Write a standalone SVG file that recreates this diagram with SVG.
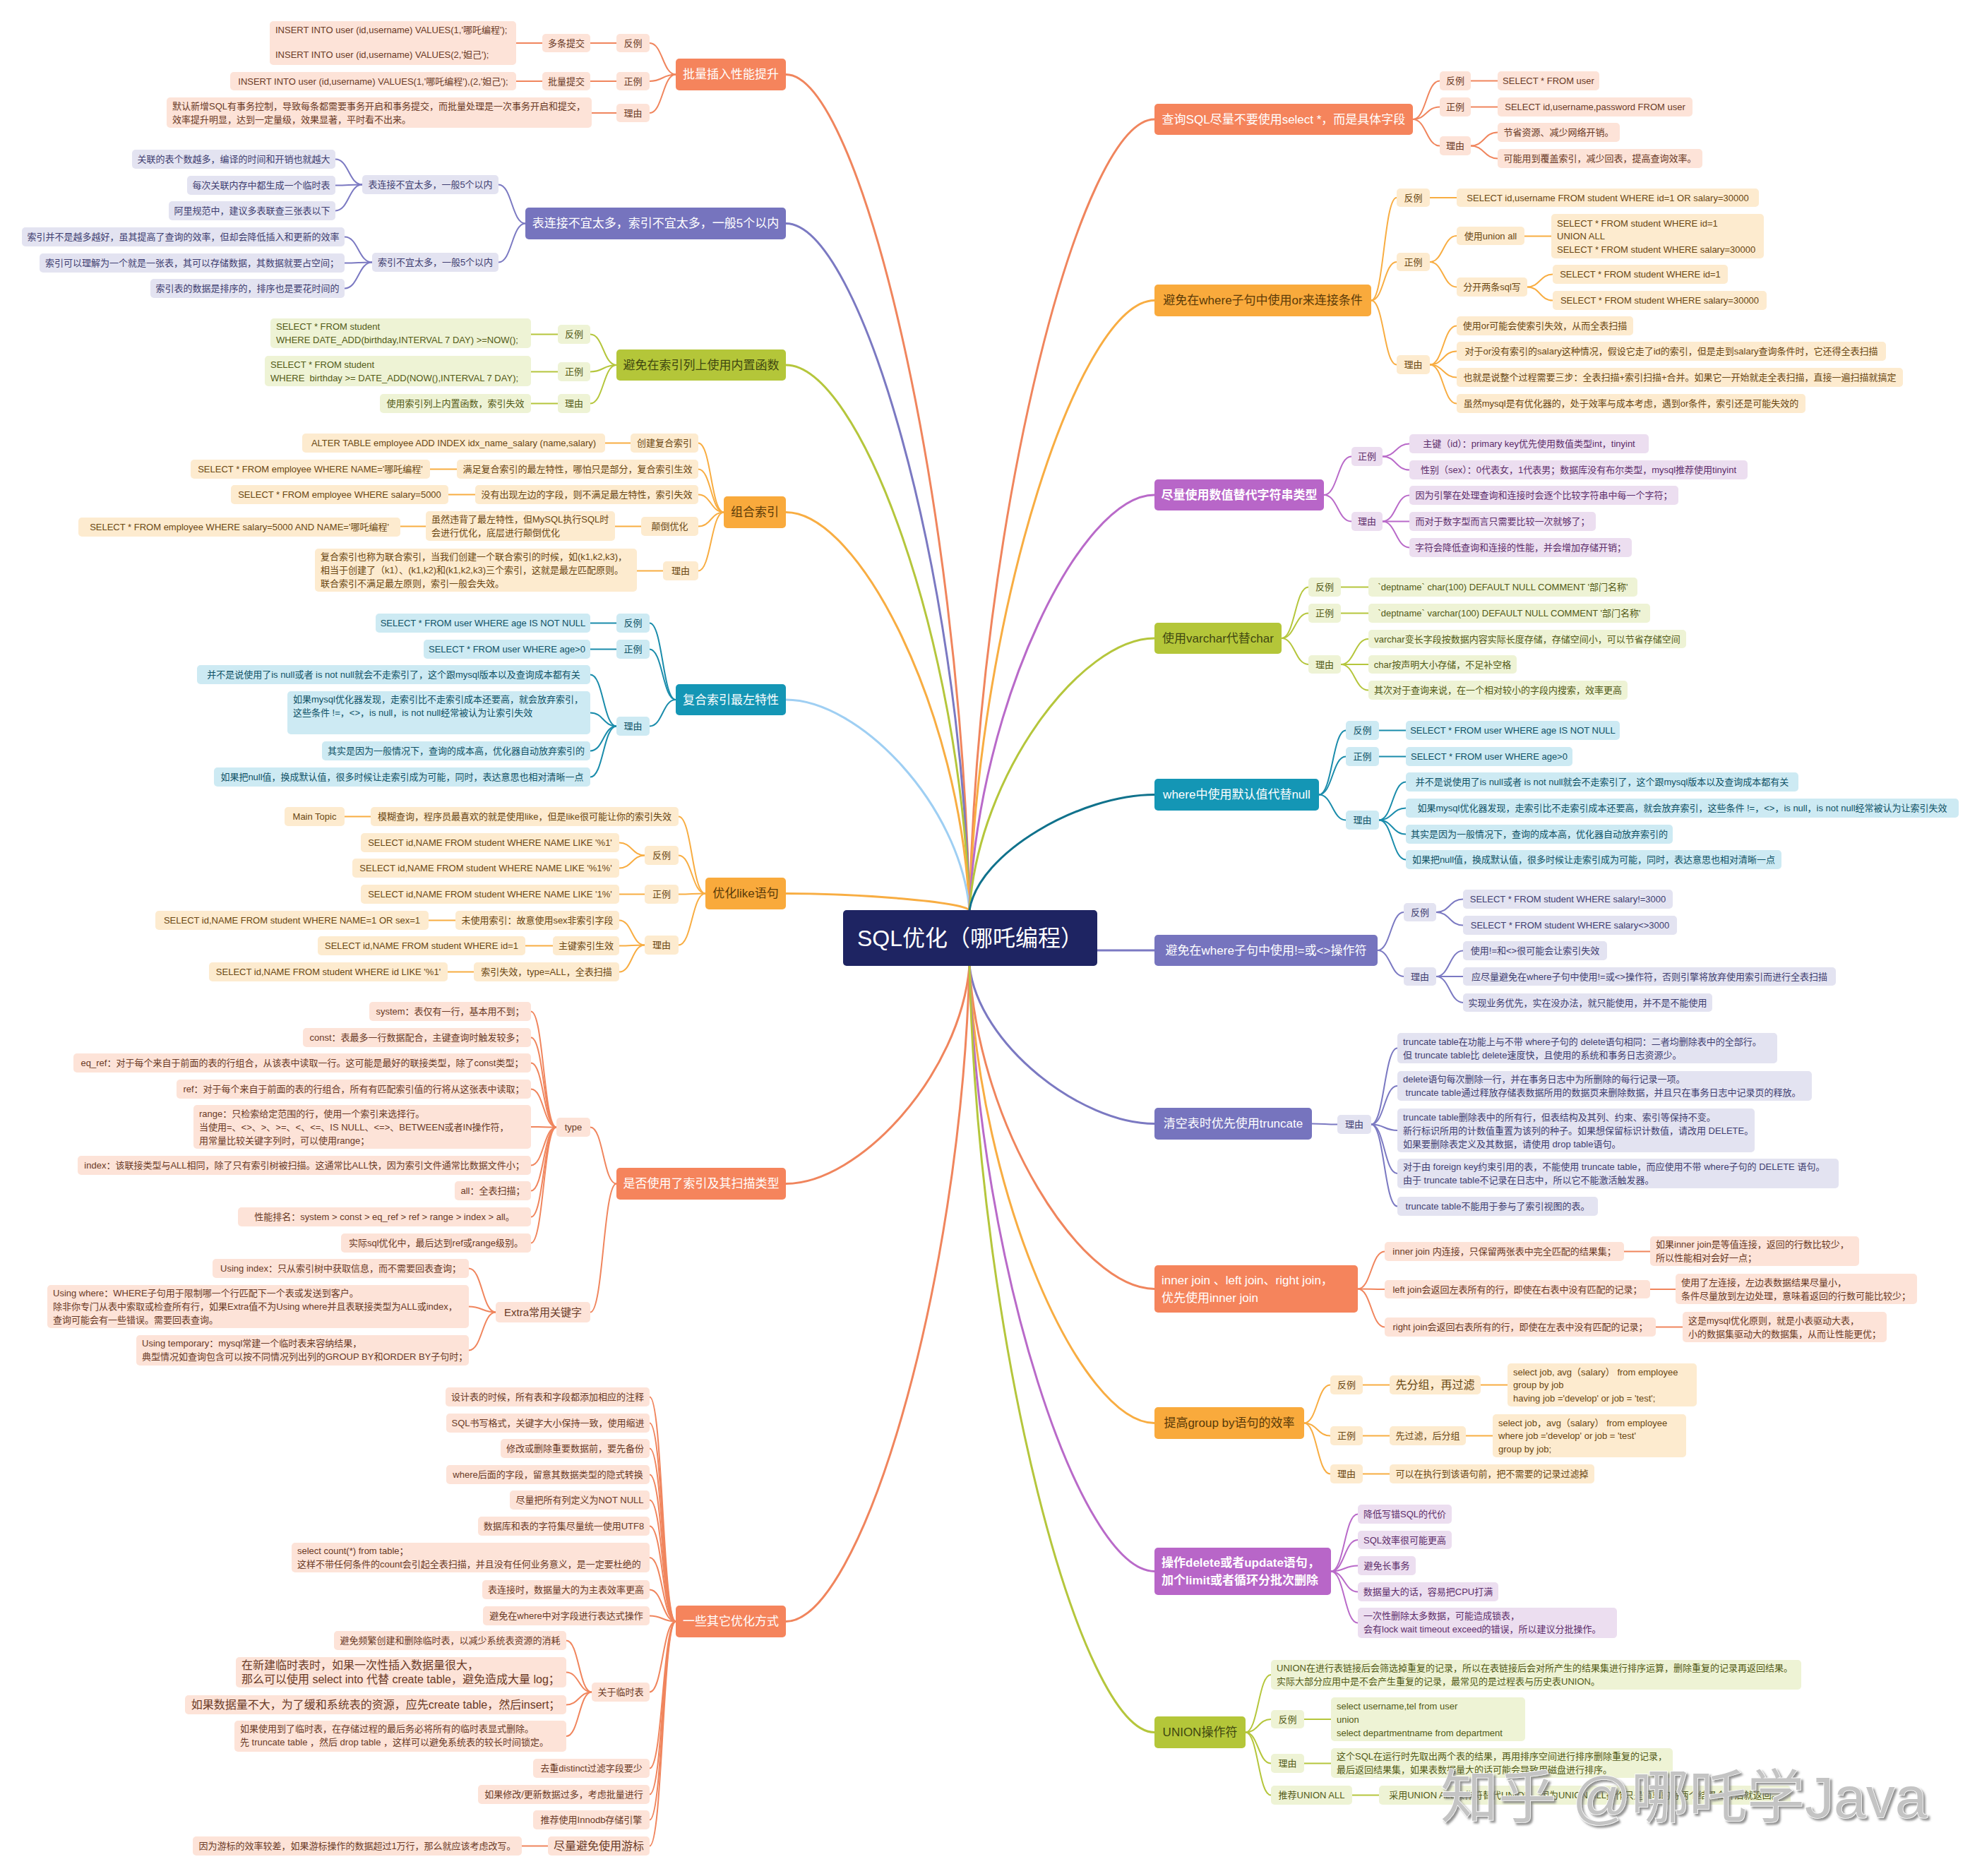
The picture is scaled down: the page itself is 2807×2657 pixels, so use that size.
<svg xmlns="http://www.w3.org/2000/svg" width="2807" height="2657" viewBox="0 0 2807 2657">
<defs>
<filter id="wm" x="-5%" y="-20%" width="110%" height="140%"><feDropShadow dx="3" dy="3" stdDeviation="1.5" flood-color="#777" flood-opacity="0.8"/></filter>
<style>
text{font-family:"Liberation Sans","Noto Sans CJK SC",sans-serif;font-size:13px;dominant-baseline:central}
.c text{text-anchor:middle}
.m text{font-size:17px}
.f16 text{font-size:16px}
.f15 text{font-size:15px}
.pre{white-space:pre}
rect{rx:5px;ry:5px}
.co rect{fill:#fde3d8}.co text{fill:#6a3a26}
.pu rect{fill:#e3e3f1}.pu text{fill:#3e3d70}
.yg rect{fill:#eef3d5}.yg text{fill:#525a16}
.am rect{fill:#fdebcf}.am text{fill:#6a4712}
.te rect{fill:#cdeaf3}.te text{fill:#0f5266}
.ma rect{fill:#ecdef0}.ma text{fill:#5c2d6a}
.m.co rect{fill:#f5845c}.m.co text{fill:#ffffff}
.m.pu rect{fill:#7674be}.m.pu text{fill:#ffffff}
.m.yg rect{fill:#b4c639}.m.yg text{fill:#3f4710}
.m.am rect{fill:#f9aa3c}.m.am text{fill:#5a3a08}
.m.te rect{fill:#1496b5}.m.te text{fill:#ffffff}
.m.ma rect{fill:#b866c8}.m.ma text{fill:#ffffff;font-weight:bold}
#center rect{fill:#1e2462}
#center text{fill:#ffffff;font-size:32px;text-anchor:middle}
#connectors path{fill:none;stroke-width:2;stroke-linecap:round}
#connectors .w3 path{stroke-width:3}
.k-co{stroke:#f0855d}.k-pu{stroke:#7b79c2}.k-yg{stroke:#b5c63c}.k-am{stroke:#f8ad42}.k-te{stroke:#1a8cab}.k-ma{stroke:#b96ac9}.k-lb{stroke:#9fcff3}.k-dt{stroke:#10728c}
#watermark{font-size:82px;fill:#c4c4c4;stroke:#ffffff;stroke-width:1.5px;paint-order:stroke;filter:url(#wm)}
</style>
</defs>
<rect width="2807" height="2657" fill="#ffffff"/>
<g id="connectors">
<g class="w3">
<path class="k-co" d="M1113 105.5C1217 105.5 1360 697 1373 1289"/>
<path class="k-pu" d="M1113 316.5C1217 316.5 1360 803 1373 1289"/>
<path class="k-yg" d="M1113 517C1217 517 1360 903 1373 1289"/>
<path class="k-am" d="M1113 725.5C1217 725.5 1360 1007 1373 1289"/>
<path class="k-lb" d="M1113 991C1217 991 1360 1140 1373 1289"/>
<path class="k-am" d="M1113 1265.5C1217 1265.5 1360 1277 1373 1289"/>
<path class="k-co" d="M1113 1676.5C1217 1676.5 1360 1522 1373 1368"/>
<path class="k-co" d="M1113 2296.5C1217 2296.5 1360 1832 1373 1368"/>
<path class="k-co" d="M1635 169C1531 169 1386 729 1373 1289"/>
<path class="k-am" d="M1635 425.5C1531 425.5 1386 857 1373 1289"/>
<path class="k-ma" d="M1635 701C1531 701 1386 995 1373 1289"/>
<path class="k-yg" d="M1635 904C1531 904 1386 1096.5 1373 1289"/>
<path class="k-dt" d="M1635 1125.5C1531 1125.5 1386 1207 1373 1289"/>
<path class="k-pu" d="M1554 1346H1635"/>
<path class="k-pu" d="M1635 1591.5C1531 1591.5 1386 1480 1373 1368"/>
<path class="k-co" d="M1635 1825.5C1531 1825.5 1386 1597 1373 1368"/>
<path class="k-am" d="M1635 2015.5C1531 2015.5 1386 1692 1373 1368"/>
<path class="k-ma" d="M1635 2225.5C1531 2225.5 1386 1797 1373 1368"/>
<path class="k-yg" d="M1635 2453.5C1531 2453.5 1386 1911 1373 1368"/>
</g>
<g class="k-co">
<path d="M957 105.5C938.5 105.5 938.5 61 920 61"/>
<path d="M957 105.5C938.5 105.5 938.5 115 920 115"/>
<path d="M957 105.5C938.5 105.5 938.5 160 920 160"/>
<path d="M873 61H836M768 61H731M873 115H836M768 115H731M873 160H838"/>
<path d="M873 1676.5C854.5 1676.5 854.5 1596.5 836 1596.5"/>
<path d="M873 1676.5C854.5 1676.5 854.5 1858.5 836 1858.5"/>
<path d="M788 1596.5C770 1596.5 770 1432.5 752 1432.5"/>
<path d="M788 1596.5C770 1596.5 770 1469.5 752 1469.5"/>
<path d="M788 1596.5C770 1596.5 770 1505.5 752 1505.5"/>
<path d="M788 1596.5C770 1596.5 770 1542.5 752 1542.5"/>
<path d="M788 1596.5C770 1596.5 770 1596 752 1596"/>
<path d="M788 1596.5C770 1596.5 770 1650.5 752 1650.5"/>
<path d="M788 1596.5C770 1596.5 770 1686.5 752 1686.5"/>
<path d="M788 1596.5C770 1596.5 770 1723.5 752 1723.5"/>
<path d="M788 1596.5C770 1596.5 770 1760.5 752 1760.5"/>
<path d="M702 1858.5C683 1858.5 683 1796.5 664 1796.5"/>
<path d="M702 1858.5C683 1858.5 683 1850.5 664 1850.5"/>
<path d="M702 1858.5C683 1858.5 683 1912.5 664 1912.5"/>
<path d="M957 2296.5C938.5 2296.5 938.5 1978.5 920 1978.5"/>
<path d="M957 2296.5C938.5 2296.5 938.5 2015.5 920 2015.5"/>
<path d="M957 2296.5C938.5 2296.5 938.5 2051.5 920 2051.5"/>
<path d="M957 2296.5C938.5 2296.5 938.5 2088.5 920 2088.5"/>
<path d="M957 2296.5C938.5 2296.5 938.5 2124.5 920 2124.5"/>
<path d="M957 2296.5C938.5 2296.5 938.5 2161.5 920 2161.5"/>
<path d="M957 2296.5C938.5 2296.5 938.5 2206 920 2206"/>
<path d="M957 2296.5C938.5 2296.5 938.5 2251.5 920 2251.5"/>
<path d="M957 2296.5C938.5 2296.5 938.5 2288.5 920 2288.5"/>
<path d="M957 2296.5C938.5 2296.5 938.5 2396.5 920 2396.5"/>
<path d="M957 2296.5C938.5 2296.5 938.5 2504.5 920 2504.5"/>
<path d="M957 2296.5C938.5 2296.5 938.5 2541.5 920 2541.5"/>
<path d="M957 2296.5C938.5 2296.5 938.5 2577.5 920 2577.5"/>
<path d="M957 2296.5C938.5 2296.5 938.5 2614.5 920 2614.5"/>
<path d="M838 2396.5C820 2396.5 820 2323.5 802 2323.5"/>
<path d="M838 2396.5C820 2396.5 820 2368.5 802 2368.5"/>
<path d="M838 2396.5C820 2396.5 820 2414.5 802 2414.5"/>
<path d="M838 2396.5C820 2396.5 820 2459 802 2459"/>
<path d="M776 2614.5H739"/>
<path d="M2001 169C2020 169 2020 114.5 2039 114.5"/>
<path d="M2001 169C2020 169 2020 151.5 2039 151.5"/>
<path d="M2001 169C2020 169 2020 206.5 2039 206.5"/>
<path d="M2083 114.5H2121M2083 151.5H2121"/>
<path d="M2083 206.5C2102 206.5 2102 187.5 2121 187.5"/>
<path d="M2083 206.5C2102 206.5 2102 224.5 2121 224.5"/>
<path d="M1923 1825.5C1942 1825.5 1942 1772.5 1961 1772.5"/>
<path d="M1923 1825.5C1942 1825.5 1942 1826 1961 1826"/>
<path d="M1923 1825.5C1942 1825.5 1942 1879.5 1961 1879.5"/>
<path d="M2300 1772.5H2337M2337 1826H2373M2345 1879.5H2383"/>
</g>
<g class="k-pu">
<path d="M744 316.5C725 316.5 725 261.5 706 261.5"/>
<path d="M744 316.5C725 316.5 725 371.5 706 371.5"/>
<path d="M513 261.5C494 261.5 494 225.5 475 225.5"/>
<path d="M513 261.5C494 261.5 494 262.5 475 262.5"/>
<path d="M513 261.5C494 261.5 494 298.5 475 298.5"/>
<path d="M527 371.5C507.5 371.5 507.5 335.5 488 335.5"/>
<path d="M527 371.5C507.5 371.5 507.5 372.5 488 372.5"/>
<path d="M527 371.5C507.5 371.5 507.5 408.5 488 408.5"/>
<path d="M1951 1346C1969.5 1346 1969.5 1292 1988 1292"/>
<path d="M1951 1346C1969.5 1346 1969.5 1383 1988 1383"/>
<path d="M2034 1292C2053 1292 2053 1273.5 2072 1273.5"/>
<path d="M2034 1292C2053 1292 2053 1310.5 2072 1310.5"/>
<path d="M2034 1383C2053 1383 2053 1346.5 2072 1346.5"/>
<path d="M2034 1383H2072"/>
<path d="M2034 1383C2053 1383 2053 1420 2072 1420"/>
<path d="M1858 1591.5C1876 1591.5 1876 1592.5 1894 1592.5"/>
<path d="M1942 1592.5C1960.5 1592.5 1960.5 1484.5 1979 1484.5"/>
<path d="M1942 1592.5C1960.5 1592.5 1960.5 1538 1979 1538"/>
<path d="M1942 1592.5C1960.5 1592.5 1960.5 1601 1979 1601"/>
<path d="M1942 1592.5C1960.5 1592.5 1960.5 1662 1979 1662"/>
<path d="M1942 1592.5C1960.5 1592.5 1960.5 1708.5 1979 1708.5"/>
</g>
<g class="k-yg">
<path d="M873 517C854.5 517 854.5 473.5 836 473.5"/>
<path d="M873 517C854.5 517 854.5 526.5 836 526.5"/>
<path d="M873 517C854.5 517 854.5 571.5 836 571.5"/>
<path d="M790 473.5H752M790 526.5H752M790 571.5H752"/>
<path d="M1815 904C1834 904 1834 831.5 1853 831.5"/>
<path d="M1815 904C1834 904 1834 868.5 1853 868.5"/>
<path d="M1815 904C1834 904 1834 941 1853 941"/>
<path d="M1899 831.5H1938M1899 868.5H1938"/>
<path d="M1899 941C1918.5 941 1918.5 905 1938 905"/>
<path d="M1899 941H1938"/>
<path d="M1899 941C1918.5 941 1918.5 977.5 1938 977.5"/>
<path d="M1764 2453.5C1782 2453.5 1782 2372 1800 2372"/>
<path d="M1764 2453.5C1782 2453.5 1782 2435 1800 2435"/>
<path d="M1764 2453.5C1782 2453.5 1782 2497.5 1800 2497.5"/>
<path d="M1764 2453.5C1782 2453.5 1782 2542.5 1800 2542.5"/>
<path d="M1847 2435H1885M1847 2497.5H1885M1915 2542.5H1953"/>
</g>
<g class="k-am">
<path d="M1025 725.5C1007 725.5 1007 627.5 989 627.5"/>
<path d="M1025 725.5C1007 725.5 1007 664.5 989 664.5"/>
<path d="M1025 725.5C1007 725.5 1007 700.5 989 700.5"/>
<path d="M1025 725.5C1007 725.5 1007 745.5 989 745.5"/>
<path d="M1025 725.5C1007 725.5 1007 808.5 989 808.5"/>
<path d="M893 627.5H857M647 664.5H609M673 700.5H635M908 745.5H871M603 745.5H567M939 808.5H902"/>
<path d="M999 1265.5C980 1265.5 980 1156.5 961 1156.5"/>
<path d="M999 1265.5C980 1265.5 980 1211.5 961 1211.5"/>
<path d="M999 1265.5C980 1265.5 980 1266.5 961 1266.5"/>
<path d="M999 1265.5C980 1265.5 980 1338.5 961 1338.5"/>
<path d="M525 1156.5H488"/>
<path d="M913 1211.5C895 1211.5 895 1193.5 877 1193.5"/>
<path d="M913 1211.5C895 1211.5 895 1229.5 877 1229.5"/>
<path d="M913 1266.5H877"/>
<path d="M913 1338.5C895 1338.5 895 1303.5 877 1303.5"/>
<path d="M913 1338.5C895 1338.5 895 1339.5 877 1339.5"/>
<path d="M913 1338.5C895 1338.5 895 1376.5 877 1376.5"/>
<path d="M645 1303.5H607M783 1339.5H744M671 1376.5H634"/>
<path d="M1942 425.5C1960 425.5 1960 280 1978 280"/>
<path d="M1942 425.5C1960 425.5 1960 371 1978 371"/>
<path d="M1942 425.5C1960 425.5 1960 516.5 1978 516.5"/>
<path d="M2025 280H2063"/>
<path d="M2025 371C2044 371 2044 334 2063 334"/>
<path d="M2025 371C2044 371 2044 406.5 2063 406.5"/>
<path d="M2159 334.5H2197"/>
<path d="M2163 406.5C2181 406.5 2181 388.5 2199 388.5"/>
<path d="M2163 406.5C2181 406.5 2181 425.5 2199 425.5"/>
<path d="M2025 516.5C2044 516.5 2044 461.5 2063 461.5"/>
<path d="M2025 516.5C2044 516.5 2044 497.5 2063 497.5"/>
<path d="M2025 516.5C2044 516.5 2044 534.5 2063 534.5"/>
<path d="M2025 516.5C2044 516.5 2044 571.5 2063 571.5"/>
<path d="M1847 2015.5C1865.5 2015.5 1865.5 1961.5 1884 1961.5"/>
<path d="M1847 2015.5C1865.5 2015.5 1865.5 2033.5 1884 2033.5"/>
<path d="M1847 2015.5C1865.5 2015.5 1865.5 2087.5 1884 2087.5"/>
<path d="M1930 1961.5H1968M2097 1961.5H2135M1930 2033.5H1968M2076 2033.5H2114M1930 2087.5H1968"/>
</g>
<g class="k-te">
<path d="M957 991C938.5 991 938.5 882.5 920 882.5"/>
<path d="M957 991C938.5 991 938.5 919.5 920 919.5"/>
<path d="M957 991C938.5 991 938.5 1028.5 920 1028.5"/>
<path d="M873 882.5H836M873 919.5H836"/>
<path d="M873 1028.5C854.5 1028.5 854.5 955.5 836 955.5"/>
<path d="M873 1028.5C854.5 1028.5 854.5 1009.5 836 1009.5"/>
<path d="M873 1028.5C854.5 1028.5 854.5 1063.5 836 1063.5"/>
<path d="M873 1028.5C854.5 1028.5 854.5 1100.5 836 1100.5"/>
<path d="M1868 1125.5C1887 1125.5 1887 1034.5 1906 1034.5"/>
<path d="M1868 1125.5C1887 1125.5 1887 1071.5 1906 1071.5"/>
<path d="M1868 1125.5C1887 1125.5 1887 1161.5 1906 1161.5"/>
<path d="M1953 1034.5H1991M1953 1071.5H1991"/>
<path d="M1953 1161.5C1972 1161.5 1972 1107.5 1991 1107.5"/>
<path d="M1953 1161.5C1972 1161.5 1972 1144.5 1991 1144.5"/>
<path d="M1953 1161.5C1972 1161.5 1972 1181.5 1991 1181.5"/>
<path d="M1953 1161.5C1972 1161.5 1972 1217.5 1991 1217.5"/>
</g>
<g class="k-ma">
<path d="M1875 701C1894.5 701 1894.5 646.5 1914 646.5"/>
<path d="M1875 701C1894.5 701 1894.5 738.5 1914 738.5"/>
<path d="M1958 646.5C1977 646.5 1977 628.5 1996 628.5"/>
<path d="M1958 646.5C1977 646.5 1977 665.5 1996 665.5"/>
<path d="M1958 738.5C1977 738.5 1977 701.5 1996 701.5"/>
<path d="M1958 738.5H1996"/>
<path d="M1958 738.5C1977 738.5 1977 775.5 1996 775.5"/>
<path d="M1885 2225.5C1904 2225.5 1904 2144.5 1923 2144.5"/>
<path d="M1885 2225.5C1904 2225.5 1904 2181 1923 2181"/>
<path d="M1885 2225.5C1904 2225.5 1904 2217.5 1923 2217.5"/>
<path d="M1885 2225.5C1904 2225.5 1904 2254.5 1923 2254.5"/>
<path d="M1885 2225.5C1904 2225.5 1904 2298.5 1923 2298.5"/>
</g>
</g>
<g id="nodes">
<g id="center"><rect x="1194" y="1289" width="360" height="79"/><text x="1374" y="1328.5">SQL优化（哪吒编程）</text></g>

<g id="L1" class="m co c"><rect x="957" y="83" width="156" height="45"/><text x="1035" y="105.5">批量插入性能提升</text></g>
<g id="L1-a" class="co c"><rect x="873" y="48" width="47" height="26"/><text x="896.5" y="61">反例</text></g>
<g id="L1-b" class="co c"><rect x="873" y="102" width="47" height="26"/><text x="896.5" y="115">正例</text></g>
<g id="L1-c" class="co c"><rect x="873" y="147" width="47" height="26"/><text x="896.5" y="160">理由</text></g>
<g id="L1-a1" class="co c"><rect x="768" y="48" width="68" height="26"/><text x="802" y="61">多条提交</text></g>
<g id="L1-b1" class="co c"><rect x="768" y="102" width="68" height="26"/><text x="802" y="115">批量提交</text></g>
<g id="L1-a1-1" class="co"><rect x="382" y="30" width="349" height="62"/><text x="390" y="42">INSERT INTO user (id,username) VALUES(1,'哪吒编程');</text><text x="390" y="77">INSERT INTO user (id,username) VALUES(2,'妲己');</text></g>
<g id="L1-b1-1" class="co c"><rect x="326" y="102" width="405" height="26"/><text x="528.5" y="115">INSERT INTO user (id,username) VALUES(1,'哪吒编程'),(2,'妲己');</text></g>
<g id="L1-c1" class="co"><rect x="236" y="138" width="602" height="43"/><text x="244" y="150">默认新增SQL有事务控制，导致每条都需要事务开启和事务提交，而批量处理是一次事务开启和提交，</text><text x="244" y="169">效率提升明显，达到一定量级，效果显著，平时看不出来。</text></g>

<g id="L2" class="m pu c"><rect x="744" y="294" width="369" height="45"/><text x="928.5" y="316.5">表连接不宜太多，索引不宜太多，一般5个以内</text></g>
<g id="L2-a" class="pu c"><rect x="513" y="248" width="193" height="27"/><text x="609.5" y="261.5">表连接不宜太多，一般5个以内</text></g>
<g id="L2-b" class="pu c"><rect x="527" y="358" width="179" height="27"/><text x="616.5" y="371.5">索引不宜太多，一般5个以内</text></g>
<g id="L2-a1" class="pu c"><rect x="187" y="212" width="288" height="27"/><text x="331" y="225.5">关联的表个数越多，编译的时间和开销也就越大</text></g>
<g id="L2-a2" class="pu c"><rect x="265" y="249" width="210" height="27"/><text x="370" y="262.5">每次关联内存中都生成一个临时表</text></g>
<g id="L2-a3" class="pu c"><rect x="239" y="285" width="236" height="27"/><text x="357" y="298.5">阿里规范中，建议多表联查三张表以下</text></g>
<g id="L2-b1" class="pu c"><rect x="31" y="322" width="457" height="27"/><text x="259.5" y="335.5">索引并不是越多越好，虽其提高了查询的效率，但却会降低插入和更新的效率</text></g>
<g id="L2-b2" class="pu c"><rect x="56" y="359" width="432" height="27"/><text x="272" y="372.5">索引可以理解为一个就是一张表，其可以存储数据，其数据就要占空间；</text></g>
<g id="L2-b3" class="pu c"><rect x="213" y="395" width="275" height="27"/><text x="350.5" y="408.5">索引表的数据是排序的，排序也是要花时间的</text></g>

<g id="L3" class="m yg c"><rect x="873" y="495" width="240" height="44"/><text x="993" y="517">避免在索引列上使用内置函数</text></g>
<g id="L3-a" class="yg c"><rect x="790" y="460" width="46" height="27"/><text x="813" y="473.5">反例</text></g>
<g id="L3-b" class="yg c"><rect x="790" y="513" width="46" height="27"/><text x="813" y="526.5">正例</text></g>
<g id="L3-c" class="yg c"><rect x="790" y="558" width="46" height="27"/><text x="813" y="571.5">理由</text></g>
<g id="L3-a1" class="yg"><rect x="383" y="451" width="369" height="42"/><text x="391" y="462.5">SELECT * FROM student</text><text x="391" y="481.5">WHERE DATE_ADD(birthday,INTERVAL 7 DAY) &gt;=NOW();</text></g>
<g id="L3-b1" class="yg"><rect x="375" y="504" width="377" height="43"/><text x="383" y="516">SELECT * FROM student</text><text class="pre" x="383" y="535">WHERE  birthday &gt;= DATE_ADD(NOW(),INTERVAL 7 DAY);</text></g>
<g id="L3-c1" class="yg c"><rect x="538" y="558" width="214" height="27"/><text x="645" y="571.5">使用索引列上内置函数，索引失效</text></g>

<g id="L4" class="m am c"><rect x="1025" y="703" width="88" height="45"/><text x="1069" y="725.5">组合索引</text></g>
<g id="L4-a" class="am c"><rect x="893" y="614" width="96" height="27"/><text x="941" y="627.5">创建复合索引</text></g>
<g id="L4-a1" class="am c"><rect x="428" y="614" width="429" height="27"/><text x="642.5" y="627.5">ALTER TABLE employee ADD INDEX idx_name_salary (name,salary)</text></g>
<g id="L4-b" class="am c"><rect x="647" y="651" width="342" height="27"/><text x="818" y="664.5">满足复合索引的最左特性，哪怕只是部分，复合索引生效</text></g>
<g id="L4-b1" class="am c"><rect x="270" y="651" width="339" height="27"/><text x="439.5" y="664.5">SELECT * FROM employee WHERE NAME='哪吒编程'</text></g>
<g id="L4-c" class="am c"><rect x="673" y="687" width="316" height="27"/><text x="831" y="700.5">没有出现左边的字段，则不满足最左特性，索引失效</text></g>
<g id="L4-c1" class="am c"><rect x="327" y="687" width="308" height="27"/><text x="481" y="700.5">SELECT * FROM employee WHERE salary=5000</text></g>
<g id="L4-d" class="am c"><rect x="908" y="732" width="81" height="27"/><text x="948.5" y="745.5">颠倒优化</text></g>
<g id="L4-d1" class="am"><rect x="603" y="724" width="268" height="42"/><text x="611" y="735">虽然违背了最左特性，但MySQL执行SQL时</text><text x="611" y="754">会进行优化，底层进行颠倒优化</text></g>
<g id="L4-d2" class="am c"><rect x="111" y="733" width="456" height="27"/><text x="339" y="746.5">SELECT * FROM employee WHERE salary=5000 AND NAME='哪吒编程'</text></g>
<g id="L4-e" class="am c"><rect x="939" y="795" width="50" height="27"/><text x="964" y="808.5">理由</text></g>
<g id="L4-e1" class="am"><rect x="446" y="777" width="456" height="61"/><text x="454" y="788.5">复合索引也称为联合索引，当我们创建一个联合索引的时候，如(k1,k2,k3)，</text><text x="454" y="807.5">相当于创建了（k1）、(k1,k2)和(k1,k2,k3)三个索引，这就是最左匹配原则。</text><text x="454" y="826.5">联合索引不满足最左原则，索引一般会失效。</text></g>

<g id="L5" class="m te c"><rect x="957" y="969" width="156" height="44"/><text x="1035" y="991">复合索引最左特性</text></g>
<g id="L5-a" class="te c"><rect x="873" y="869" width="47" height="27"/><text x="896.5" y="882.5">反例</text></g>
<g id="L5-a1" class="te c"><rect x="532" y="869" width="304" height="27"/><text x="684" y="882.5">SELECT * FROM user WHERE age IS NOT NULL</text></g>
<g id="L5-b" class="te c"><rect x="873" y="906" width="47" height="27"/><text x="896.5" y="919.5">正例</text></g>
<g id="L5-b1" class="te c"><rect x="600" y="906" width="236" height="27"/><text x="718" y="919.5">SELECT * FROM user WHERE age&gt;0</text></g>
<g id="L5-c" class="te c"><rect x="873" y="1015" width="47" height="27"/><text x="896.5" y="1028.5">理由</text></g>
<g id="L5-c1" class="te c"><rect x="279" y="942" width="557" height="27"/><text x="557.5" y="955.5">并不是说使用了is null或者 is not null就会不走索引了，这个跟mysql版本以及查询成本都有关</text></g>
<g id="L5-c2" class="te"><rect x="407" y="979" width="429" height="61"/><text x="415" y="990">如果mysql优化器发现，走索引比不走索引成本还要高，就会放弃索引，</text><text x="415" y="1009">这些条件 !=，&lt;&gt;，is null，is not null经常被认为让索引失效</text></g>
<g id="L5-c3" class="te c"><rect x="456" y="1050" width="380" height="27"/><text x="646" y="1063.5">其实是因为一般情况下，查询的成本高，优化器自动放弃索引的</text></g>
<g id="L5-c4" class="te c"><rect x="303" y="1087" width="533" height="27"/><text x="569.5" y="1100.5">如果把null值，换成默认值，很多时候让走索引成为可能，同时，表达意思也相对清晰一点</text></g>

<g id="L6" class="m am c"><rect x="999" y="1243" width="114" height="45"/><text x="1056" y="1265.5">优化like语句</text></g>
<g id="L6-a" class="am c"><rect x="525" y="1143" width="436" height="27"/><text x="743" y="1156.5">模糊查询，程序员最喜欢的就是使用like，但是like很可能让你的索引失效</text></g>
<g id="L6-a1" class="am c"><rect x="403" y="1143" width="85" height="27"/><text x="445.5" y="1156.5">Main Topic</text></g>
<g id="L6-b" class="am c"><rect x="913" y="1198" width="48" height="27"/><text x="937" y="1211.5">反例</text></g>
<g id="L6-b1" class="am c"><rect x="511" y="1180" width="366" height="27"/><text x="694" y="1193.5">SELECT id,NAME FROM student WHERE NAME LIKE '%1'</text></g>
<g id="L6-b2" class="am c"><rect x="499" y="1216" width="378" height="27"/><text x="688" y="1229.5">SELECT id,NAME FROM student WHERE NAME LIKE '%1%'</text></g>
<g id="L6-c" class="am c"><rect x="913" y="1253" width="48" height="27"/><text x="937" y="1266.5">正例</text></g>
<g id="L6-c1" class="am c"><rect x="511" y="1253" width="366" height="27"/><text x="694" y="1266.5">SELECT id,NAME FROM student WHERE NAME LIKE '1%'</text></g>
<g id="L6-d" class="am c"><rect x="913" y="1325" width="48" height="27"/><text x="937" y="1338.5">理由</text></g>
<g id="L6-d1" class="am c"><rect x="645" y="1290" width="232" height="27"/><text x="761" y="1303.5">未使用索引：故意使用sex非索引字段</text></g>
<g id="L6-d1a" class="am c"><rect x="220" y="1290" width="387" height="27"/><text x="413.5" y="1303.5">SELECT id,NAME FROM student WHERE NAME=1 OR sex=1</text></g>
<g id="L6-d2" class="am c"><rect x="783" y="1326" width="94" height="27"/><text x="830" y="1339.5">主键索引生效</text></g>
<g id="L6-d2a" class="am c"><rect x="450" y="1326" width="294" height="27"/><text x="597" y="1339.5">SELECT id,NAME FROM student WHERE id=1</text></g>
<g id="L6-d3" class="am c"><rect x="671" y="1363" width="206" height="27"/><text x="774" y="1376.5">索引失效，type=ALL，全表扫描</text></g>
<g id="L6-d3a" class="am c"><rect x="296" y="1363" width="338" height="27"/><text x="465" y="1376.5">SELECT id,NAME FROM student WHERE id LIKE '%1'</text></g>

<g id="L7" class="m co c"><rect x="873" y="1654" width="240" height="45"/><text x="993" y="1676.5">是否使用了索引及其扫描类型</text></g>
<g id="L7-t" class="co c"><rect x="788" y="1583" width="48" height="27"/><text x="812" y="1596.5">type</text></g>
<g id="L7-t1" class="co c"><rect x="523" y="1419" width="229" height="27"/><text x="637.5" y="1432.5">system：表仅有一行，基本用不到；</text></g>
<g id="L7-t2" class="co c"><rect x="429" y="1456" width="323" height="27"/><text x="590.5" y="1469.5">const：表最多一行数据配合，主键查询时触发较多；</text></g>
<g id="L7-t3" class="co c"><rect x="104" y="1492" width="648" height="27"/><text x="428" y="1505.5">eq_ref：对于每个来自于前面的表的行组合，从该表中读取一行。这可能是最好的联接类型，除了const类型；</text></g>
<g id="L7-t4" class="co c"><rect x="250" y="1529" width="502" height="27"/><text x="501" y="1542.5">ref：对于每个来自于前面的表的行组合，所有有匹配索引值的行将从这张表中读取；</text></g>
<g id="L7-t5" class="co"><rect x="274" y="1565" width="478" height="62"/><text x="282" y="1577">range：只检索给定范围的行，使用一个索引来选择行。</text><text x="282" y="1596">当使用=、&lt;&gt;、&gt;、&gt;=、&lt;、&lt;=、IS NULL、&lt;=&gt;、BETWEEN或者IN操作符，</text><text x="282" y="1615">用常量比较关键字列时，可以使用range；</text></g>
<g id="L7-t6" class="co c"><rect x="110" y="1637" width="642" height="27"/><text x="431" y="1650.5">index：该联接类型与ALL相同，除了只有索引树被扫描。这通常比ALL快，因为索引文件通常比数据文件小；</text></g>
<g id="L7-t7" class="co c"><rect x="644" y="1673" width="108" height="27"/><text x="698" y="1686.5">all：全表扫描；</text></g>
<g id="L7-t8" class="co c"><rect x="337" y="1710" width="415" height="27"/><text x="544.5" y="1723.5">性能排名：system &gt; const &gt; eq_ref &gt; ref &gt; range &gt; index &gt; all。</text></g>
<g id="L7-t9" class="co c"><rect x="483" y="1747" width="269" height="27"/><text x="617.5" y="1760.5">实际sql优化中，最后达到ref或range级别。</text></g>
<g id="L7-e" class="co c f15"><rect x="702" y="1844" width="134" height="29"/><text x="769" y="1858.5">Extra常用关键字</text></g>
<g id="L7-e1" class="co c"><rect x="301" y="1783" width="363" height="27"/><text x="482.5" y="1796.5">Using index：只从索引树中获取信息，而不需要回表查询；</text></g>
<g id="L7-e2" class="co"><rect x="67" y="1820" width="597" height="61"/><text x="75" y="1831">Using where：WHERE子句用于限制哪一个行匹配下一个表或发送到客户。</text><text x="75" y="1850">除非你专门从表中索取或检查所有行，如果Extra值不为Using where并且表联接类型为ALL或index，</text><text x="75" y="1869">查询可能会有一些错误。需要回表查询。</text></g>
<g id="L7-e3" class="co"><rect x="193" y="1891" width="471" height="43"/><text x="201" y="1902.5">Using temporary：mysql常建一个临时表来容纳结果，</text><text x="201" y="1921.5">典型情况如查询包含可以按不同情况列出列的GROUP BY和ORDER BY子句时；</text></g>

<g id="L8" class="m co c"><rect x="957" y="2274" width="156" height="45"/><text x="1035" y="2296.5">一些其它优化方式</text></g>
<g id="L8-1" class="co c"><rect x="631" y="1965" width="289" height="27"/><text x="775.5" y="1978.5">设计表的时候，所有表和字段都添加相应的注释</text></g>
<g id="L8-2" class="co c"><rect x="632" y="2002" width="288" height="27"/><text x="776" y="2015.5">SQL书写格式，关键字大小保持一致，使用缩进</text></g>
<g id="L8-3" class="co c"><rect x="709" y="2038" width="211" height="27"/><text x="814.5" y="2051.5">修改或删除重要数据前，要先备份</text></g>
<g id="L8-4" class="co c"><rect x="632" y="2075" width="288" height="27"/><text x="776" y="2088.5">where后面的字段，留意其数据类型的隐式转换</text></g>
<g id="L8-5" class="co c"><rect x="722" y="2111" width="198" height="27"/><text x="821" y="2124.5">尽量把所有列定义为NOT NULL</text></g>
<g id="L8-6" class="co c"><rect x="677" y="2148" width="243" height="27"/><text x="798.5" y="2161.5">数据库和表的字符集尽量统一使用UTF8</text></g>
<g id="L8-7" class="co"><rect x="413" y="2185" width="507" height="42"/><text x="421" y="2196">select count(*) from table；</text><text x="421" y="2215">这样不带任何条件的count会引起全表扫描，并且没有任何业务意义，是一定要杜绝的</text></g>
<g id="L8-8" class="co c"><rect x="683" y="2238" width="237" height="27"/><text x="801.5" y="2251.5">表连接时，数据量大的为主表效率更高</text></g>
<g id="L8-9" class="co c"><rect x="684" y="2275" width="236" height="27"/><text x="802" y="2288.5">避免在where中对字段进行表达式操作</text></g>
<g id="L8-10" class="co c"><rect x="838" y="2383" width="82" height="27"/><text x="879" y="2396.5">关于临时表</text></g>
<g id="L8-10a" class="co c"><rect x="473" y="2310" width="329" height="27"/><text x="637.5" y="2323.5">避免频繁创建和删除临时表，以减少系统表资源的消耗</text></g>
<g id="L8-10b" class="co f16"><rect x="334" y="2347" width="468" height="43"/><text x="342" y="2358">在新建临时表时，如果一次性插入数据量很大，</text><text x="342" y="2378">那么可以使用 select into 代替 create table，避免造成大量 log；</text></g>
<g id="L8-10c" class="co c f16"><rect x="262" y="2401" width="540" height="27"/><text x="532" y="2414.5">如果数据量不大，为了缓和系统表的资源，应先create table，然后insert；</text></g>
<g id="L8-10d" class="co"><rect x="332" y="2437" width="470" height="44"/><text x="340" y="2448.5">如果使用到了临时表，在存储过程的最后务必将所有的临时表显式删除。</text><text x="340" y="2467.5">先 truncate table ，然后 drop table ，这样可以避免系统表的较长时间锁定。</text></g>
<g id="L8-11" class="co c"><rect x="755" y="2491" width="165" height="27"/><text x="837.5" y="2504.5">去重distinct过滤字段要少</text></g>
<g id="L8-12" class="co c"><rect x="677" y="2528" width="243" height="27"/><text x="798.5" y="2541.5">如果修改/更新数据过多，考虑批量进行</text></g>
<g id="L8-13" class="co c"><rect x="755" y="2564" width="165" height="27"/><text x="837.5" y="2577.5">推荐使用Innodb存储引擎</text></g>
<g id="L8-14" class="co c f16"><rect x="776" y="2601" width="144" height="27"/><text x="848" y="2614.5">尽量避免使用游标</text></g>
<g id="L8-14a" class="co c"><rect x="273" y="2601" width="466" height="27"/><text x="506" y="2614.5">因为游标的效率较差，如果游标操作的数据超过1万行，那么就应该考虑改写。</text></g>

<g id="R1" class="m co c"><rect x="1635" y="147" width="366" height="44"/><text x="1818" y="169">查询SQL尽量不要使用select *，而是具体字段</text></g>
<g id="R1-a" class="co c"><rect x="2039" y="101" width="44" height="27"/><text x="2061" y="114.5">反例</text></g>
<g id="R1-a1" class="co c"><rect x="2121" y="101" width="144" height="27"/><text x="2193" y="114.5">SELECT * FROM user</text></g>
<g id="R1-b" class="co c"><rect x="2039" y="138" width="44" height="27"/><text x="2061" y="151.5">正例</text></g>
<g id="R1-b1" class="co c"><rect x="2121" y="138" width="276" height="27"/><text x="2259" y="151.5">SELECT id,username,password FROM user</text></g>
<g id="R1-c" class="co c"><rect x="2039" y="193" width="44" height="27"/><text x="2061" y="206.5">理由</text></g>
<g id="R1-c1" class="co c"><rect x="2121" y="174" width="173" height="27"/><text x="2207.5" y="187.5">节省资源、减少网络开销。</text></g>
<g id="R1-c2" class="co c"><rect x="2121" y="211" width="290" height="27"/><text x="2266" y="224.5">可能用到覆盖索引，减少回表，提高查询效率。</text></g>

<g id="R2" class="m am c"><rect x="1635" y="403" width="307" height="45"/><text x="1788.5" y="425.5">避免在where子句中使用or来连接条件</text></g>
<g id="R2-a" class="am c"><rect x="1978" y="267" width="47" height="26"/><text x="2001.5" y="280">反例</text></g>
<g id="R2-a1" class="am c"><rect x="2063" y="267" width="428" height="26"/><text x="2277" y="280">SELECT id,username FROM student WHERE id=1 OR salary=30000</text></g>
<g id="R2-b" class="am c"><rect x="1978" y="358" width="47" height="26"/><text x="2001.5" y="371">正例</text></g>
<g id="R2-b1" class="am c"><rect x="2063" y="321" width="96" height="26"/><text x="2111" y="334">使用union all</text></g>
<g id="R2-b1a" class="am"><rect x="2197" y="303" width="301" height="63"/><text x="2205" y="316">SELECT * FROM student WHERE id=1</text><text x="2205" y="334.5">UNION ALL</text><text x="2205" y="353">SELECT * FROM student WHERE salary=30000</text></g>
<g id="R2-b2" class="am c"><rect x="2063" y="393" width="100" height="27"/><text x="2113" y="406.5">分开两条sql写</text></g>
<g id="R2-b2a" class="am c"><rect x="2199" y="375" width="248" height="27"/><text x="2323" y="388.5">SELECT * FROM student WHERE id=1</text></g>
<g id="R2-b2b" class="am c"><rect x="2199" y="412" width="303" height="27"/><text x="2350.5" y="425.5">SELECT * FROM student WHERE salary=30000</text></g>
<g id="R2-c" class="am c"><rect x="1978" y="503" width="47" height="27"/><text x="2001.5" y="516.5">理由</text></g>
<g id="R2-c1" class="am c"><rect x="2063" y="448" width="250" height="27"/><text x="2188" y="461.5">使用or可能会使索引失效，从而全表扫描</text></g>
<g id="R2-c2" class="am c"><rect x="2063" y="484" width="608" height="27"/><text x="2367" y="497.5">对于or没有索引的salary这种情况，假设它走了id的索引，但是走到salary查询条件时，它还得全表扫描</text></g>
<g id="R2-c3" class="am c"><rect x="2063" y="521" width="632" height="27"/><text x="2379" y="534.5">也就是说整个过程需要三步：全表扫描+索引扫描+合并。如果它一开始就走全表扫描，直接一遍扫描就搞定</text></g>
<g id="R2-c4" class="am c"><rect x="2063" y="558" width="494" height="27"/><text x="2310" y="571.5">虽然mysql是有优化器的，处于效率与成本考虑，遇到or条件，索引还是可能失效的</text></g>

<g id="R3" class="m ma c"><rect x="1635" y="679" width="240" height="44"/><text x="1755" y="701">尽量使用数值替代字符串类型</text></g>
<g id="R3-a" class="ma c"><rect x="1914" y="633" width="44" height="27"/><text x="1936" y="646.5">正例</text></g>
<g id="R3-a1" class="ma c"><rect x="1996" y="615" width="339" height="27"/><text x="2165.5" y="628.5">主键（id）：primary key优先使用数值类型int，tinyint</text></g>
<g id="R3-a2" class="ma c"><rect x="1996" y="652" width="479" height="27"/><text x="2235.5" y="665.5">性别（sex）：0代表女，1代表男；数据库没有布尔类型，mysql推荐使用tinyint</text></g>
<g id="R3-b" class="ma c"><rect x="1914" y="725" width="44" height="27"/><text x="1936" y="738.5">理由</text></g>
<g id="R3-b1" class="ma c"><rect x="1996" y="688" width="381" height="27"/><text x="2186.5" y="701.5">因为引擎在处理查询和连接时会逐个比较字符串中每一个字符；</text></g>
<g id="R3-b2" class="ma c"><rect x="1996" y="725" width="264" height="27"/><text x="2128" y="738.5">而对于数字型而言只需要比较一次就够了；</text></g>
<g id="R3-b3" class="ma c"><rect x="1996" y="762" width="315" height="27"/><text x="2153.5" y="775.5">字符会降低查询和连接的性能，并会增加存储开销；</text></g>

<g id="R4" class="m yg c"><rect x="1635" y="882" width="180" height="44"/><text x="1725" y="904">使用varchar代替char</text></g>
<g id="R4-a" class="yg c"><rect x="1853" y="818" width="46" height="27"/><text x="1876" y="831.5">反例</text></g>
<g id="R4-a1" class="yg c"><rect x="1938" y="818" width="381" height="27"/><text x="2128.5" y="831.5">`deptname` char(100) DEFAULT NULL COMMENT '部门名称'</text></g>
<g id="R4-b" class="yg c"><rect x="1853" y="855" width="46" height="27"/><text x="1876" y="868.5">正例</text></g>
<g id="R4-b1" class="yg c"><rect x="1938" y="855" width="399" height="27"/><text x="2137.5" y="868.5">`deptname` varchar(100) DEFAULT NULL COMMENT '部门名称'</text></g>
<g id="R4-c" class="yg c"><rect x="1853" y="928" width="46" height="26"/><text x="1876" y="941">理由</text></g>
<g id="R4-c1" class="yg c"><rect x="1938" y="892" width="450" height="26"/><text x="2163" y="905">varchar变长字段按数据内容实际长度存储，存储空间小，可以节省存储空间</text></g>
<g id="R4-c2" class="yg c"><rect x="1938" y="928" width="210" height="26"/><text x="2043" y="941">char按声明大小存储，不足补空格</text></g>
<g id="R4-c3" class="yg c"><rect x="1938" y="964" width="367" height="27"/><text x="2121.5" y="977.5">其次对于查询来说，在一个相对较小的字段内搜索，效率更高</text></g>

<g id="R5" class="m te c"><rect x="1635" y="1103" width="233" height="45"/><text x="1751.5" y="1125.5">where中使用默认值代替null</text></g>
<g id="R5-a" class="te c"><rect x="1906" y="1021" width="47" height="27"/><text x="1929.5" y="1034.5">反例</text></g>
<g id="R5-a1" class="te c"><rect x="1991" y="1021" width="303" height="27"/><text x="2142.5" y="1034.5">SELECT * FROM user WHERE age IS NOT NULL</text></g>
<g id="R5-b" class="te c"><rect x="1906" y="1058" width="47" height="27"/><text x="1929.5" y="1071.5">正例</text></g>
<g id="R5-b1" class="te c"><rect x="1991" y="1058" width="236" height="27"/><text x="2109" y="1071.5">SELECT * FROM user WHERE age&gt;0</text></g>
<g id="R5-c" class="te c"><rect x="1906" y="1148" width="47" height="27"/><text x="1929.5" y="1161.5">理由</text></g>
<g id="R5-c1" class="te c"><rect x="1991" y="1094" width="556" height="27"/><text x="2269" y="1107.5">并不是说使用了is null或者 is not null就会不走索引了，这个跟mysql版本以及查询成本都有关</text></g>
<g id="R5-c2" class="te c"><rect x="1991" y="1131" width="783" height="27"/><text x="2382.5" y="1144.5">如果mysql优化器发现，走索引比不走索引成本还要高，就会放弃索引，这些条件 !=，&lt;&gt;，is null，is not null经常被认为让索引失效</text></g>
<g id="R5-c3" class="te c"><rect x="1991" y="1168" width="378" height="27"/><text x="2180" y="1181.5">其实是因为一般情况下，查询的成本高，优化器自动放弃索引的</text></g>
<g id="R5-c4" class="te c"><rect x="1991" y="1204" width="532" height="27"/><text x="2257" y="1217.5">如果把null值，换成默认值，很多时候让走索引成为可能，同时，表达意思也相对清晰一点</text></g>

<g id="R6" class="m pu c"><rect x="1635" y="1324" width="316" height="44"/><text x="1793" y="1346">避免在where子句中使用!=或&lt;&gt;操作符</text></g>
<g id="R6-a" class="pu c"><rect x="1988" y="1279" width="46" height="26"/><text x="2011" y="1292">反例</text></g>
<g id="R6-a1" class="pu c"><rect x="2072" y="1260" width="297" height="27"/><text x="2220.5" y="1273.5">SELECT * FROM student WHERE salary!=3000</text></g>
<g id="R6-a2" class="pu c"><rect x="2072" y="1297" width="303" height="27"/><text x="2223.5" y="1310.5">SELECT * FROM student WHERE salary&lt;&gt;3000</text></g>
<g id="R6-b" class="pu c"><rect x="1988" y="1370" width="46" height="26"/><text x="2011" y="1383">理由</text></g>
<g id="R6-b1" class="pu c"><rect x="2072" y="1333" width="204" height="27"/><text x="2174" y="1346.5">使用!=和&lt;&gt;很可能会让索引失效</text></g>
<g id="R6-b2" class="pu c"><rect x="2072" y="1370" width="528" height="26"/><text x="2336" y="1383">应尽量避免在where子句中使用!=或&lt;&gt;操作符，否则引擎将放弃使用索引而进行全表扫描</text></g>
<g id="R6-b3" class="pu c"><rect x="2072" y="1407" width="353" height="26"/><text x="2248.5" y="1420">实现业务优先，实在没办法，就只能使用，并不是不能使用</text></g>

<g id="R7" class="m pu c"><rect x="1635" y="1569" width="223" height="45"/><text x="1746.5" y="1591.5">清空表时优先使用truncate</text></g>
<g id="R7-a" class="pu c"><rect x="1894" y="1579" width="48" height="27"/><text x="1918" y="1592.5">理由</text></g>
<g id="R7-a1" class="pu"><rect x="1979" y="1463" width="538" height="43"/><text x="1987" y="1475">truncate table在功能上与不带 where子句的 delete语句相同：二者均删除表中的全部行。</text><text x="1987" y="1494">但 truncate table比 delete速度快，且使用的系统和事务日志资源少。</text></g>
<g id="R7-a2" class="pu"><rect x="1979" y="1517" width="587" height="42"/><text x="1987" y="1528.5">delete语句每次删除一行，并在事务日志中为所删除的每行记录一项。</text><text class="pre" x="1987" y="1547.5"> truncate table通过释放存储表数据所用的数据页来删除数据，并且只在事务日志中记录页的释放。</text></g>
<g id="R7-a3" class="pu"><rect x="1979" y="1570" width="506" height="62"/><text x="1987" y="1582">truncate table删除表中的所有行，但表结构及其列、约束、索引等保持不变。</text><text x="1987" y="1601">新行标识所用的计数值重置为该列的种子。如果想保留标识计数值，请改用 DELETE。</text><text x="1987" y="1620">如果要删除表定义及其数据，请使用 drop table语句。</text></g>
<g id="R7-a4" class="pu"><rect x="1979" y="1641" width="625" height="42"/><text x="1987" y="1652.5">对于由 foreign key约束引用的表，不能使用 truncate table，而应使用不带 where子句的 DELETE 语句。</text><text x="1987" y="1671.5">由于 truncate table不记录在日志中，所以它不能激活触发器。</text></g>
<g id="R7-a5" class="pu c"><rect x="1979" y="1695" width="284" height="27"/><text x="2121" y="1708.5">truncate table不能用于参与了索引视图的表。</text></g>

<g id="R8" class="m co"><rect x="1635" y="1792" width="288" height="67"/><text x="1645" y="1813">inner join 、left join、right join，</text><text x="1645" y="1838">优先使用inner join</text></g>
<g id="R8-a" class="co c"><rect x="1961" y="1759" width="339" height="27"/><text x="2130.5" y="1772.5">inner join 内连接，只保留两张表中完全匹配的结果集；</text></g>
<g id="R8-a1" class="co"><rect x="2337" y="1751" width="296" height="42"/><text x="2345" y="1762.5">如果inner join是等值连接，返回的行数比较少，</text><text x="2345" y="1781.5">所以性能相对会好一点；</text></g>
<g id="R8-b" class="co c"><rect x="1961" y="1813" width="376" height="26"/><text x="2149" y="1826">left join会返回左表所有的行，即使在右表中没有匹配的记录；</text></g>
<g id="R8-b1" class="co"><rect x="2373" y="1804" width="342" height="43"/><text x="2381" y="1816">使用了左连接，左边表数据结果尽量小，</text><text x="2381" y="1835">条件尽量放到左边处理，意味着返回的行数可能比较少；</text></g>
<g id="R8-c" class="co c"><rect x="1961" y="1866" width="384" height="27"/><text x="2153" y="1879.5">right join会返回右表所有的行，即使在左表中没有匹配的记录；</text></g>
<g id="R8-c1" class="co"><rect x="2383" y="1858" width="289" height="43"/><text x="2391" y="1870">这是mysql优化原则，就是小表驱动大表，</text><text x="2391" y="1889">小的数据集驱动大的数据集，从而让性能更优；</text></g>

<g id="R9" class="m am c"><rect x="1635" y="1993" width="212" height="45"/><text x="1741" y="2015.5">提高group by语句的效率</text></g>
<g id="R9-a" class="am c"><rect x="1884" y="1948" width="46" height="27"/><text x="1907" y="1961.5">反例</text></g>
<g id="R9-a1" class="am c f16"><rect x="1968" y="1948" width="129" height="27"/><text x="2032.5" y="1961.5">先分组，再过滤</text></g>
<g id="R9-a2" class="am"><rect x="2135" y="1931" width="268" height="61"/><text x="2143" y="1943">select job, avg（salary） from employee</text><text x="2143" y="1961.5">group by job</text><text x="2143" y="1980">having job ='develop' or job = 'test';</text></g>
<g id="R9-b" class="am c"><rect x="1884" y="2020" width="46" height="27"/><text x="1907" y="2033.5">正例</text></g>
<g id="R9-b1" class="am c"><rect x="1968" y="2020" width="108" height="27"/><text x="2022" y="2033.5">先过滤，后分组</text></g>
<g id="R9-b2" class="am"><rect x="2114" y="2003" width="274" height="61"/><text x="2122" y="2015">select job，avg（salary） from employee</text><text x="2122" y="2033.5">where job ='develop' or job = 'test'</text><text x="2122" y="2052">group by job;</text></g>
<g id="R9-c" class="am c"><rect x="1884" y="2074" width="46" height="27"/><text x="1907" y="2087.5">理由</text></g>
<g id="R9-c1" class="am c"><rect x="1968" y="2074" width="290" height="27"/><text x="2113" y="2087.5">可以在执行到该语句前，把不需要的记录过滤掉</text></g>

<g id="R10" class="m ma"><rect x="1635" y="2192" width="250" height="67"/><text x="1645" y="2213">操作delete或者update语句，</text><text x="1645" y="2238">加个limit或者循环分批次删除</text></g>
<g id="R10-1" class="ma c"><rect x="1923" y="2131" width="133" height="27"/><text x="1989.5" y="2144.5">降低写错SQL的代价</text></g>
<g id="R10-2" class="ma c"><rect x="1923" y="2168" width="133" height="26"/><text x="1989.5" y="2181">SQL效率很可能更高</text></g>
<g id="R10-3" class="ma c"><rect x="1923" y="2204" width="82" height="27"/><text x="1964" y="2217.5">避免长事务</text></g>
<g id="R10-4" class="ma c"><rect x="1923" y="2241" width="199" height="27"/><text x="2022.5" y="2254.5">数据量大的话，容易把CPU打满</text></g>
<g id="R10-5" class="ma"><rect x="1923" y="2277" width="367" height="43"/><text x="1931" y="2288.5">一次性删除太多数据，可能造成锁表，</text><text x="1931" y="2307.5">会有lock wait timeout exceed的错误，所以建议分批操作。</text></g>

<g id="R11" class="m yg c"><rect x="1635" y="2431" width="129" height="45"/><text x="1699.5" y="2453.5">UNION操作符</text></g>
<g id="R11-a" class="yg"><rect x="1800" y="2351" width="751" height="42"/><text x="1808" y="2362">UNION在进行表链接后会筛选掉重复的记录，所以在表链接后会对所产生的结果集进行排序运算，删除重复的记录再返回结果。</text><text x="1808" y="2381">实际大部分应用中是不会产生重复的记录，最常见的是过程表与历史表UNION。</text></g>
<g id="R11-b" class="yg c"><rect x="1800" y="2422" width="47" height="26"/><text x="1823.5" y="2435">反例</text></g>
<g id="R11-b1" class="yg"><rect x="1885" y="2404" width="275" height="62"/><text x="1893" y="2416">select username,tel from user</text><text x="1893" y="2435">union</text><text x="1893" y="2454">select departmentname from department</text></g>
<g id="R11-c" class="yg c"><rect x="1800" y="2484" width="47" height="27"/><text x="1823.5" y="2497.5">理由</text></g>
<g id="R11-c1" class="yg"><rect x="1885" y="2476" width="484" height="42"/><text x="1893" y="2487">这个SQL在运行时先取出两个表的结果，再用排序空间进行排序删除重复的记录，</text><text x="1893" y="2506">最后返回结果集，如果表数据量大的话可能会导致用磁盘进行排序。</text></g>
<g id="R11-d" class="yg c"><rect x="1800" y="2529" width="115" height="27"/><text x="1857.5" y="2542.5">推荐UNION ALL</text></g>
<g id="R11-d1" class="yg c"><rect x="1953" y="2529" width="583" height="27"/><text x="2244.5" y="2542.5">采用UNION ALL操作符替代UNION，因为UNION ALL操作只是简单的将两个结果合并后就返回。</text></g>
</g>
<text id="watermark" x="2040" y="2545">知乎 @哪吒学Java</text>
</svg>
